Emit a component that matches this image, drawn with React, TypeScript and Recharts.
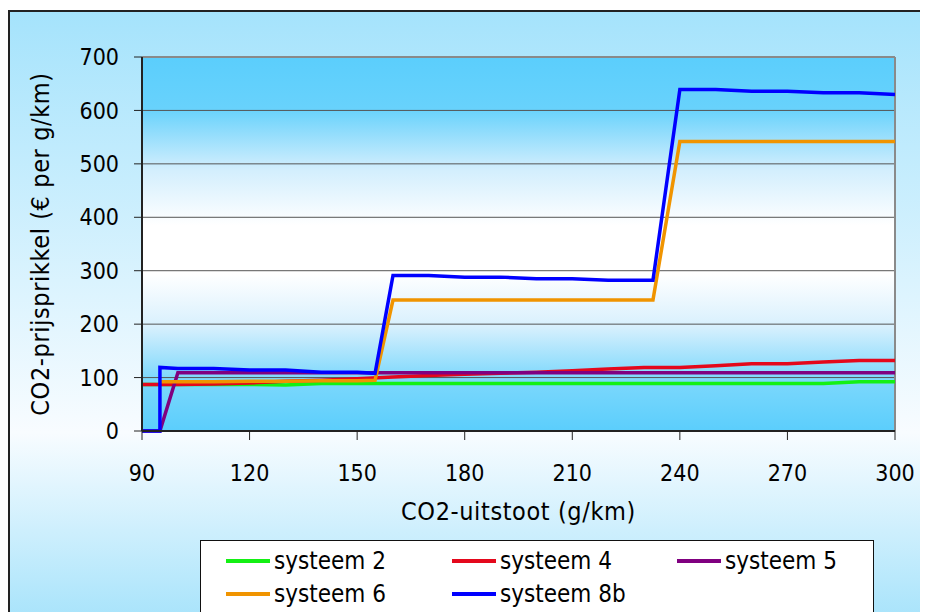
import React from "react";
import { LineChart, Line, XAxis, YAxis, CartesianGrid, Legend, ReferenceLine } from "recharts";

const FONT = '"DejaVu Sans Condensed", "DejaVu Sans", sans-serif';

// x values (CO2-uitstoot, g/km)
const xEvery10 = [90, 100, 110, 120, 130, 140, 150, 160, 170, 180, 190, 200, 210, 220, 230, 240, 250, 260, 270, 280, 290, 300];
const xSys5 = [90, 95, 100, 110, 120, 130, 140, 150, 160, 170, 180, 190, 200, 210, 220, 230, 240, 250, 260, 270, 280, 290, 300];
const xSys6 = [95, 100, 110, 120, 130, 140, 150, 155, 160, 170, 180, 190, 200, 210, 220, 230, 232.5, 240, 250, 260, 270, 280, 290, 300];
const xSys8b = [90, 95, 95, 100, 110, 120, 130, 140, 150, 155, 160, 170, 180, 190, 200, 210, 220, 230, 232.5, 240, 250, 260, 270, 280, 290, 300];

// y values (CO2-prijsprikkel, € per g/km)
const ySys2 = [87, 87, 87, 87, 86, 89, 89, 89, 89, 89, 89, 89, 89, 89, 89, 89, 89, 89, 89, 89, 92, 92];
const ySys4 = [87, 87, 88, 90, 93, 95, 98, 101, 104, 106, 108, 110, 113, 116, 119, 119, 122, 126, 126, 129, 132, 132];
const ySys5 = [0, 0, 109, 109, 109, 109, 109, 109, 109, 109, 109, 109, 109, 109, 109, 109, 109, 109, 109, 109, 109, 109, 109];
const ySys6 = [92, 92, 92, 93, 93, 94, 94, 95, 245, 245, 245, 245, 245, 245, 245, 245, 245, 542, 542, 542, 542, 542, 542, 542];
const ySys8b = [0, 0, 119, 117, 117, 114, 114, 110, 110, 108, 291, 291, 288, 288, 285, 285, 282, 282, 282, 639, 639, 636, 636, 633, 633, 630];

const xTicks = [90, 120, 150, 180, 210, 240, 270, 300];
const yTicks = [0, 100, 200, 300, 400, 500, 600, 700];

const toPoints = (xs: number[], ys: number[]) => xs.map((x, i) => ({ x, y: ys[i] }));

const series = [
  { name: "systeem 2", color: "#14F014", data: toPoints(xEvery10, ySys2) },
  { name: "systeem 4", color: "#E4081C", data: toPoints(xEvery10, ySys4) },
  { name: "systeem 5", color: "#800080", data: toPoints(xSys5, ySys5) },
  { name: "systeem 6", color: "#F09400", data: toPoints(xSys6, ySys6) },
  { name: "systeem 8b", color: "#0000FF", data: toPoints(xSys8b, ySys8b) },
];

const LegendBox = (props: any) => {
  const items = props.payload || [];
  return (
    <div
      style={{
        width: 674,
        height: 90,
        boxSizing: "border-box",
        border: "1.5px solid #111",
        background: "#fff",
        paddingLeft: 25,
        paddingTop: 3,
        display: "grid",
        gridTemplateColumns: "226px 225px 200px",
        gridAutoRows: "33px",
        alignContent: "start",
        fontFamily: FONT,
        fontSize: 24,
        color: "#000",
      }}
    >
      {items.map((it: any) => (
        <div key={it.value} style={{ display: "flex", alignItems: "center", height: 33 }}>
          <span style={{ display: "inline-block", width: 44, height: 4, background: it.color, marginRight: 4 }} />
          <span>{it.value}</span>
        </div>
      ))}
    </div>
  );
};

export default function App() {
  return (
    <div style={{ position: "relative", width: 920, height: 604, overflow: "hidden" }}>
      <svg width={0} height={0} style={{ position: "absolute" }}>
        <defs>
          <linearGradient id="plotBg" x1="0" y1="0" x2="0" y2="1">
            <stop offset="0%" stopColor="#5BCEFC" />
            <stop offset="14%" stopColor="#68D2FC" />
            <stop offset="30%" stopColor="#D2EEFD" />
            <stop offset="45%" stopColor="#FFFFFF" />
            <stop offset="58%" stopColor="#FFFFFF" />
            <stop offset="72%" stopColor="#D8F0FD" />
            <stop offset="86%" stopColor="#7DD8FC" />
            <stop offset="100%" stopColor="#5BCEFC" />
          </linearGradient>
        </defs>
      </svg>
      <div
        style={{
          position: "absolute",
          top: 2,
          left: 0,
          width: 960,
          height: 620,
          boxSizing: "border-box",
          borderTop: "2px solid #222",
          borderLeft: "2px solid #222",
          background: "linear-gradient(to bottom, #A5E3FC 0%, #F8FCFF 68%, #A3E2FB 100%)",
        }}
      />
      <LineChart
        width={920}
        height={604}
        margin={{ top: 49, right: 33, left: 0, bottom: 81 }}
        style={{ position: "absolute", top: 0, left: 0 }}
      >
        <CartesianGrid vertical={false} stroke="#555" strokeWidth={1} fill="url(#plotBg)" />
        <ReferenceLine y={700} stroke="#8A8A8A" strokeWidth={2} />
        <ReferenceLine x={300} stroke="#8A8A8A" strokeWidth={2} />
        <XAxis
          type="number"
          dataKey="x"
          domain={[90, 300]}
          ticks={xTicks}
          height={100}
          tickSize={9}
          tickMargin={25}
          axisLine={{ stroke: "#222", strokeWidth: 2 }}
          tickLine={{ stroke: "#222" }}
          tick={{ fontSize: 23, fill: "#000", fontFamily: FONT }}
          allowDataOverflow
          label={{ value: "CO2-uitstoot (g/km)", position: "insideBottom", offset: 11, fontSize: 25, fill: "#000", fontFamily: FONT, letterSpacing: 0.6 }}
        />
        <YAxis
          type="number"
          domain={[0, 700]}
          ticks={yTicks}
          width={134}
          tickSize={8}
          tickMargin={15}
          axisLine={{ stroke: "#222", strokeWidth: 2 }}
          tickLine={{ stroke: "#222" }}
          tick={{ fontSize: 23, fill: "#000", fontFamily: FONT }}
          label={{
            value: "CO2-prijsprikkel (€ per g/km)",
            angle: -90,
            position: "insideLeft",
            offset: 32,
            fontSize: 25,
            fill: "#000",
            fontFamily: FONT,
            letterSpacing: 0.6,
            style: { textAnchor: "middle" },
          }}
        />
        {series.map((s) => (
          <Line
            key={s.name}
            data={s.data}
            dataKey="y"
            name={s.name}
            type="linear"
            stroke={s.color}
            strokeWidth={3.5}
            dot={false}
            activeDot={false}
            isAnimationActive={false}
          />
        ))}
        <Legend
          layout="horizontal"
          verticalAlign="middle"
          align="center"
          wrapperStyle={{ left: 192, top: 532, width: 674 }}
          content={<LegendBox />}
        />
      </LineChart>
    </div>
  );
}
